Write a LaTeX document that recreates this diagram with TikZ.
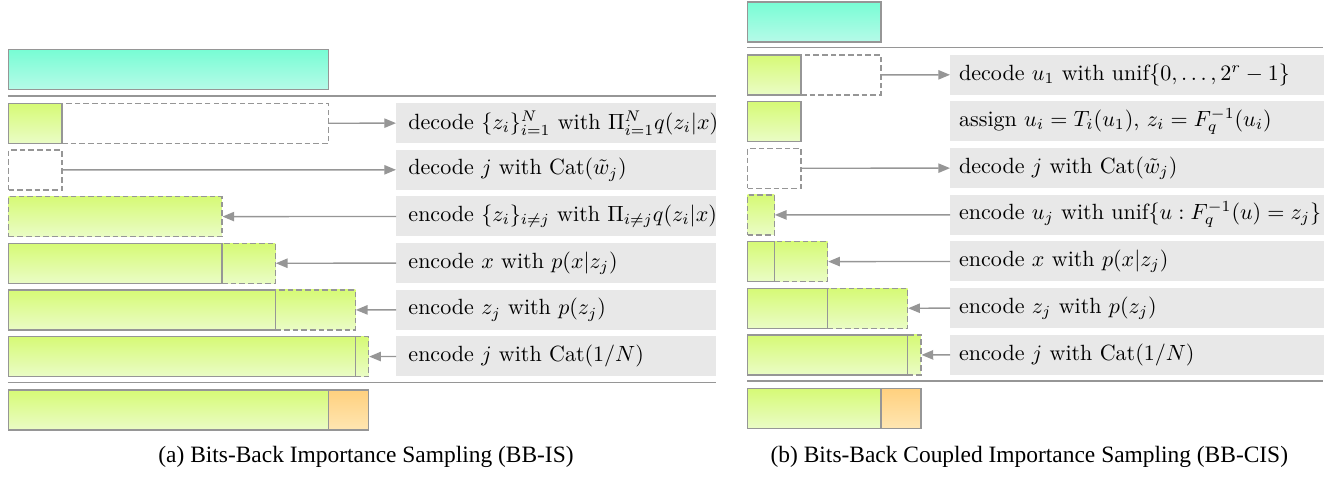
\documentclass[tikz,border=0pt]{standalone}
\usepackage{graphicx}
\usepackage{fontspec}
\usetikzlibrary{arrows.meta}
\newfontfamily\capfont{Liberation Serif}
\newcommand{\txtinL}[1]{\makebox[4.8cm][l]{\hspace{0.18cm}\scalebox{0.94}{#1}}}
\newcommand{\txtinR}[1]{\makebox[5.6cm][l]{\hspace{0.13cm}\scalebox{0.94}{#1}}}
\definecolor{LineGray}{RGB}{150,150,150}
\definecolor{TextBg}{RGB}{232,232,232}
\definecolor{CyanTop}{RGB}{120,253,212}
\definecolor{CyanBot}{RGB}{182,250,232}
\definecolor{GrTop}{RGB}{214,250,118}
\definecolor{GrBot}{RGB}{234,252,198}
\definecolor{OrTop}{RGB}{255,208,126}
\definecolor{OrBot}{RGB}{255,230,178}
\tikzset{
  blk/.style={rectangle, draw=LineGray, line width=0.5pt, inner sep=0pt, anchor=north west, minimum height=0.6cm, minimum width=#1},
  solidg/.style={blk=#1, top color=GrTop, bottom color=GrBot},
  dashg/.style={blk=#1, top color=GrTop, bottom color=GrBot, dash pattern=on 2.4pt off 1.3pt},
  dashe/.style={blk=#1, dash pattern=on 2.4pt off 1.3pt},
  cyanb/.style={blk=#1, top color=CyanTop, bottom color=CyanBot},
  orb/.style={blk=#1, top color=OrTop, bottom color=OrBot},
  txt/.style={rectangle, fill=TextBg, anchor=north west, minimum height=0.6cm, inner sep=0pt, font=\fontsize{10}{12}\selectfont},
  arr/.style={draw=LineGray, line width=0.6pt, -{Triangle[length=5pt,width=4pt]}},
  sep/.style={draw=LineGray, line width=0.6pt},
}
\begin{document}
\begin{tikzpicture}[x=1cm,y=-1cm]
\useasboundingbox (0,0) rectangle (19.95,7.155);
% ---------------- Panel (a) ----------------
\node[cyanb=4.8cm] (cyL) at (0.12,0.735) {};
\coordinate (sLa1) at (0.12,1.44); \coordinate (sLa2) at (10.74,1.44);
\draw[sep] (sLa1) -- (sLa2);
% row 1
\node[dashe=4.0cm] (dL1) at (0.92,1.54) {};
\node[solidg=0.8cm] (gL1) at (0.12,1.54) {};
\node[txt] (tL1) at (5.94,1.54) {\txtinL{decode $\{z_i\}_{i=1}^N$ with $\Pi_{i=1}^N q(z_i|x)$}};
\draw[arr] (dL1.east) -- (tL1.west);
% row 2
\node[dashe=0.8cm] (dL2) at (0.12,2.24) {};
\node[txt] (tL2) at (5.94,2.24) {\txtinL{decode $j$ with $\mathrm{Cat}(\tilde{w}_j)$}};
\draw[arr] (dL2.east) -- (tL2.west);
% row 3
\node[dashg=3.2cm] (dL3) at (0.12,2.94) {};
\node[txt] (tL3) at (5.94,2.94) {\txtinL{encode $\{z_i\}_{i\neq j}$ with $\Pi_{i\neq j} q(z_i|x)$}};
\draw[arr] (tL3.west) -- (dL3.east);
% row 4
\node[dashg=0.8cm] (dL4) at (3.32,3.64) {};
\node[solidg=3.2cm] (gL4) at (0.12,3.64) {};
\node[txt] (tL4) at (5.94,3.64) {\txtinL{encode $x$ with $p(x|z_j)$}};
\draw[arr] (tL4.west) -- (dL4.east);
% row 5
\node[dashg=1.2cm] (dL5) at (4.12,4.34) {};
\node[solidg=4.0cm] (gL5) at (0.12,4.34) {};
\node[txt] (tL5) at (5.94,4.34) {\txtinL{encode $z_j$ with $p(z_j)$}};
\draw[arr] (tL5.west) -- (dL5.east);
% row 6
\node[dashg=0.2cm] (dL6) at (5.32,5.04) {};
\node[solidg=5.2cm] (gL6) at (0.12,5.04) {};
\node[txt] (tL6) at (5.94,5.04) {\txtinL{encode $j$ with $\mathrm{Cat}(1/N)$}};
\draw[arr] (tL6.west) -- (dL6.east);
\coordinate (sLb1) at (0.12,5.74); \coordinate (sLb2) at (10.74,5.74);
\draw[sep] (sLb1) -- (sLb2);
% bottom
\node[solidg=4.8cm] (gL7) at (0.12,5.84) {};
\node[orb=0.6cm] (oL7) at (4.92,5.84) {};
\node[font=\capfont\fontsize{10}{12}\selectfont, anchor=base] (capA) at (5.49,6.93) {(a) Bits-Back Importance Sampling (BB-IS)};
% ---------------- Panel (b) ----------------
\node[cyanb=2.0cm] (cyR) at (11.205,0.02) {};
\coordinate (sRa1) at (11.205,0.715); \coordinate (sRa2) at (19.845,0.715);
\draw[sep] (sRa1) -- (sRa2);
% row 1
\node[dashe=1.2cm] (dR1) at (12.005,0.815) {};
\node[solidg=0.8cm] (gR1) at (11.205,0.815) {};
\node[txt] (tR1) at (14.25,0.815) {\txtinR{decode $u_1$ with $\mathrm{unif}\{0,\ldots,2^r-1\}$}};
\draw[arr] (dR1.east) -- (tR1.west);
% row 2
\node[solidg=0.8cm] (gR2) at (11.205,1.515) {};
\node[txt] (tR2) at (14.25,1.515) {\txtinR{assign $u_i=T_i(u_1)$, $z_i=F_q^{-1}(u_i)$}};
% row 3
\node[dashe=0.8cm] (dR3) at (11.205,2.215) {};
\node[txt] (tR3) at (14.25,2.215) {\txtinR{decode $j$ with $\mathrm{Cat}(\tilde{w}_j)$}};
\draw[arr] (dR3.east) -- (tR3.west);
% row 4
\node[dashg=0.4cm] (dR4) at (11.205,2.915) {};
\node[txt] (tR4) at (14.25,2.915) {\txtinR{encode $u_j$ with $\mathrm{unif}\{u: F_q^{-1}(u)=z_j\}$}};
\draw[arr] (tR4.west) -- (dR4.east);
% row 5
\node[dashg=0.8cm] (dR5) at (11.605,3.615) {};
\node[solidg=0.4cm] (gR5) at (11.205,3.615) {};
\node[txt] (tR5) at (14.25,3.615) {\txtinR{encode $x$ with $p(x|z_j)$}};
\draw[arr] (tR5.west) -- (dR5.east);
% row 6
\node[dashg=1.2cm] (dR6) at (12.405,4.315) {};
\node[solidg=1.2cm] (gR6) at (11.205,4.315) {};
\node[txt] (tR6) at (14.25,4.315) {\txtinR{encode $z_j$ with $p(z_j)$}};
\draw[arr] (tR6.west) -- (dR6.east);
% row 7
\node[dashg=0.2cm] (dR7) at (13.605,5.015) {};
\node[solidg=2.4cm] (gR7) at (11.205,5.015) {};
\node[txt] (tR7) at (14.25,5.015) {\txtinR{encode $j$ with $\mathrm{Cat}(1/N)$}};
\draw[arr] (tR7.west) -- (dR7.east);
\coordinate (sRb1) at (11.205,5.715); \coordinate (sRb2) at (19.845,5.715);
\draw[sep] (sRb1) -- (sRb2);
% bottom
\node[solidg=2.0cm] (gR8) at (11.205,5.815) {};
\node[orb=0.6cm] (oR8) at (13.205,5.815) {};
\node[font=\capfont\fontsize{10}{12}\selectfont, anchor=base] (capB) at (15.44,6.93) {(b) Bits-Back Coupled Importance Sampling (BB-CIS)};
\end{tikzpicture}
\end{document}
